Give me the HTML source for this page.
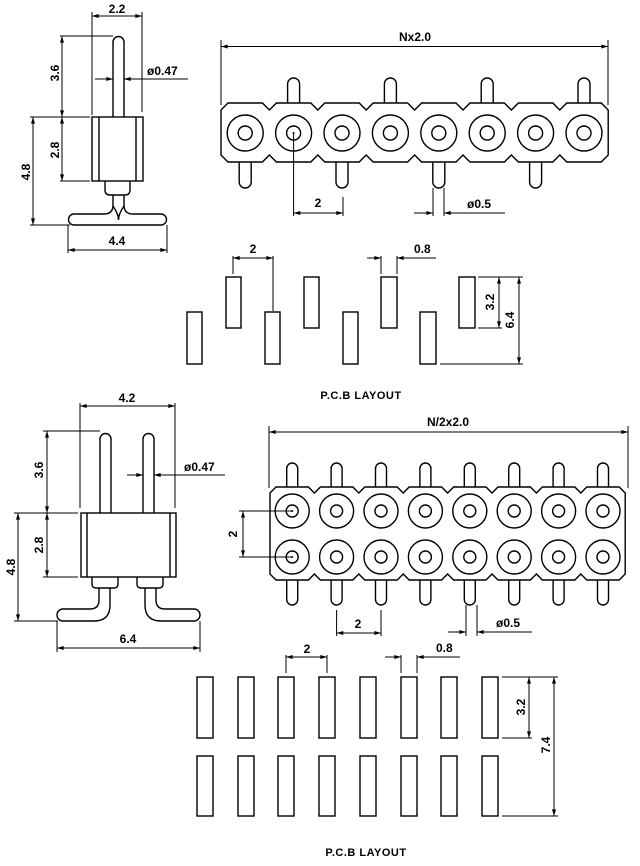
<!DOCTYPE html>
<html><head><meta charset="utf-8"><style>
html,body{margin:0;padding:0;background:#fff}
svg{display:block}
text{font-family:"Liberation Sans",sans-serif;font-size:12px;font-weight:bold;fill:#000}
.o{fill:none;stroke:#000;stroke-width:1.4}
.d{fill:none;stroke:#000;stroke-width:1}
</style></head><body>
<svg width="640" height="866" viewBox="0 0 640 866" xmlns="http://www.w3.org/2000/svg">
<defs>
<marker id="a" viewBox="0 0 10 6" refX="10" refY="3" markerWidth="8" markerHeight="4" orient="auto-start-reverse" markerUnits="userSpaceOnUse"><path d="M0,0 L10,3 L0,6 z" fill="#000"/></marker>
</defs>

<g>
<path class="d" d="M92,12 V115 M142,12 V112"/>
<path class="d" d="M92,16 H142" marker-start="url(#a)" marker-end="url(#a)"/>
<text x="117" y="13" text-anchor="middle">2.2</text>
<path class="o" d="M113,117 V42 A5.5,5.5 0 0 1 124,42 V117"/>
<path class="d" d="M60,36 H113"/>
<path class="d" d="M62,36 V117" marker-start="url(#a)" marker-end="url(#a)"/>
<text transform="translate(59,73) rotate(-90)" text-anchor="middle">3.6</text>
<path class="d" d="M95,79 H113" marker-end="url(#a)"/>
<path class="d" d="M188,79 H124" marker-end="url(#a)"/>
<text x="147" y="75">ø0.47</text>
<rect class="o" x="92" y="117" width="51" height="64"/>
<path class="o" d="M99,117 V181 M136,117 V181"/>
<path class="d" d="M62,117 V181" marker-start="url(#a)" marker-end="url(#a)"/>
<path class="d" d="M60,181 H90 M30,117 H90 M30,225 H70"/>
<text transform="translate(59,150) rotate(-90)" text-anchor="middle">2.8</text>
<path class="d" d="M33,117 V225" marker-start="url(#a)" marker-end="url(#a)"/>
<text transform="translate(30,172) rotate(-90)" text-anchor="middle">4.8</text>
<path class="o" d="M105,181 V190 Q105,195 110,195 H125 Q130,195 130,190 V181"/>
<path class="o" d="M113,195 V205 Q113,214 104,214 H74 A5.5,5.5 0 0 0 74,225 H161 A5.5,5.5 0 0 0 161,214 H133 Q124,214 124,205 V195"/>
<path class="o" d="M113,206 Q118.5,214 118.5,220 M124,206 Q118.5,214 118.5,220"/>
<path class="d" d="M68,225 V253 M167,225 V253"/>
<path class="d" d="M68,250 H167" marker-start="url(#a)" marker-end="url(#a)"/>
<text x="117" y="245" text-anchor="middle">4.4</text>
</g>

<g>
<path class="d" d="M221,40 V105 M608,40 V105"/>
<path class="d" d="M221,46.5 H608" marker-start="url(#a)" marker-end="url(#a)"/>
<text x="415" y="41" text-anchor="middle">Nx2.0</text>
<path class="o" d="M221,110 L228,103 L262.4,103 L269.4,110 L276.4,103 L310.8,103 L317.8,110 L324.8,103 L359.2,103 L366.2,110 L373.2,103 L407.6,103 L414.6,110 L421.6,103 L456,103 L463,110 L470,103 L504.4,103 L511.4,110 L518.4,103 L552.8,103 L559.8,110 L566.8,103 L601.2,103 L608.2,110 L608.2,155 L601.2,162 L566.8,162 L559.8,155 L552.8,162 L518.4,162 L511.4,155 L504.4,162 L470,162 L463,155 L456,162 L421.6,162 L414.6,155 L407.6,162 L373.2,162 L366.2,155 L359.2,162 L324.8,162 L317.8,155 L310.8,162 L276.4,162 L269.4,155 L262.4,162 L228,162 L221,155 Z"/>
<g class="o">
<circle cx="245.2" cy="133" r="18"/><circle cx="245.2" cy="133" r="7"/>
<circle cx="293.6" cy="133" r="18"/><circle cx="293.6" cy="133" r="7"/>
<circle cx="342" cy="133" r="18"/><circle cx="342" cy="133" r="7"/>
<circle cx="390.4" cy="133" r="18"/><circle cx="390.4" cy="133" r="7"/>
<circle cx="438.8" cy="133" r="18"/><circle cx="438.8" cy="133" r="7"/>
<circle cx="487.2" cy="133" r="18"/><circle cx="487.2" cy="133" r="7"/>
<circle cx="535.6" cy="133" r="18"/><circle cx="535.6" cy="133" r="7"/>
<circle cx="584" cy="133" r="18"/><circle cx="584" cy="133" r="7"/>
</g>
<circle cx="293.6" cy="133" r="1" fill="#000"/>
<path class="o" d="M287.6,103 V84 A6,6 0 0 1 299.6,84 V103 M384.4,103 V84 A6,6 0 0 1 396.4,84 V103 M481.2,103 V84 A6,6 0 0 1 493.2,84 V103 M578,103 V84 A6,6 0 0 1 590,84 V103"/>
<path class="o" d="M239.2,162 V182 A6,6 0 0 0 251.2,182 V162 M336,162 V182 A6,6 0 0 0 348,182 V162 M432.8,162 V182 A6,6 0 0 0 444.8,182 V162 M529.6,162 V182 A6,6 0 0 0 541.6,182 V162"/>
<path class="d" d="M293.6,133 V216 M343,197 V216"/>
<path class="d" d="M293.6,213 H343" marker-start="url(#a)" marker-end="url(#a)"/>
<text x="318" y="207" text-anchor="middle">2</text>
<path class="d" d="M433,188 V216 M444,188 V216"/>
<path class="d" d="M414,213 H433" marker-end="url(#a)"/>
<path class="d" d="M505,213 H444" marker-end="url(#a)"/>
<text x="467" y="208">ø0.5</text>
</g>

<g class="o">
<rect x="187" y="312" width="15" height="52"/>
<rect x="265" y="312" width="15" height="52"/>
<rect x="343" y="312" width="15" height="52"/>
<rect x="420" y="312" width="16" height="52"/>
<rect x="226" y="277" width="15" height="51"/>
<rect x="304" y="277" width="15" height="51"/>
<rect x="381" y="277" width="16" height="51"/>
<rect x="459" y="277" width="16" height="51"/>
</g>
<path class="d" d="M233,256 V274 M273,256 V311"/>
<path class="d" d="M233,258 H273" marker-start="url(#a)" marker-end="url(#a)"/>
<text x="253" y="253" text-anchor="middle">2</text>
<path class="d" d="M381,256 V274 M397,256 V274"/>
<path class="d" d="M367,258 H381" marker-end="url(#a)"/>
<path class="d" d="M436,258 H397" marker-end="url(#a)"/>
<text x="414" y="253">0.8</text>
<path class="d" d="M478,277 H523 M478,328 H502 M440,364 H523"/>
<path class="d" d="M499,277 V328" marker-start="url(#a)" marker-end="url(#a)"/>
<text transform="translate(494,302) rotate(-90)" text-anchor="middle">3.2</text>
<path class="d" d="M519,277 V364" marker-start="url(#a)" marker-end="url(#a)"/>
<text transform="translate(514,320) rotate(-90)" text-anchor="middle">6.4</text>
<text x="361" y="399" text-anchor="middle" style="font-size:11px;letter-spacing:0.5px">P.C.B LAYOUT</text>

<g>
<path class="d" d="M80,403 V508 M175,403 V508"/>
<path class="d" d="M80,406 H175" marker-start="url(#a)" marker-end="url(#a)"/>
<text x="127" y="402" text-anchor="middle">4.2</text>
<path class="o" d="M100,513 V439 A5.5,5.5 0 0 1 111,439 V513 M143,513 V439 A5.5,5.5 0 0 1 154,439 V513"/>
<path class="d" d="M43,431 H100"/>
<path class="d" d="M47,431 V513" marker-start="url(#a)" marker-end="url(#a)"/>
<text transform="translate(43,470) rotate(-90)" text-anchor="middle">3.6</text>
<path class="d" d="M127,475 H143" marker-end="url(#a)"/>
<path class="d" d="M225,475 H154" marker-end="url(#a)"/>
<text x="184" y="471">ø0.47</text>
<rect class="o" x="81" y="513" width="95" height="64"/>
<path class="o" d="M87,513 V577 M170,513 V577"/>
<path class="d" d="M47,513 V577" marker-start="url(#a)" marker-end="url(#a)"/>
<path class="d" d="M43,577 H78 M14,513 H78 M14,621 H58"/>
<text transform="translate(43,545) rotate(-90)" text-anchor="middle">2.8</text>
<path class="d" d="M18,513 V621" marker-start="url(#a)" marker-end="url(#a)"/>
<text transform="translate(15,567) rotate(-90)" text-anchor="middle">4.8</text>
<path class="o" d="M92,577 V584 Q92,588 96,588 H114 Q118,588 118,584 V577 M137,577 V584 Q137,588 141,588 H159 Q163,588 163,584 V577"/>
<path class="o" d="M110,588 V605 Q110,621 94,621 H63 A6,6 0 0 1 63,609 H90 Q99,609 99,600 V588"/>
<path class="o" d="M145,588 V605 Q145,621 161,621 H194 A6,6 0 0 0 194,609 H165 Q156,609 156,600 V588"/>
<path class="d" d="M57,621 V652 M200,621 V652"/>
<path class="d" d="M57,648 H200" marker-start="url(#a)" marker-end="url(#a)"/>
<text x="128" y="643" text-anchor="middle">6.4</text>
</g>

<g>
<path class="d" d="M269,426 V488 M628,426 V488"/>
<path class="d" d="M269,432 H628" marker-start="url(#a)" marker-end="url(#a)"/>
<text x="448" y="426" text-anchor="middle">N/2x2.0</text>
<path class="o" d="M270,493 L276,487 L308.4,487 L314.4,493 L320.4,487 L352.8,487 L358.8,493 L364.8,487 L397.2,487 L403.2,493 L409.2,487 L441.6,487 L447.6,493 L453.6,487 L486,487 L492,493 L498,487 L530.4,487 L536.4,493 L542.4,487 L574.8,487 L580.8,493 L586.8,487 L619.2,487 L625.2,493 L625.2,574 L619.2,580 L586.8,580 L580.8,574 L574.8,580 L542.4,580 L536.4,574 L530.4,580 L498,580 L492,574 L486,580 L453.6,580 L447.6,574 L441.6,580 L409.2,580 L403.2,574 L397.2,580 L364.8,580 L358.8,574 L352.8,580 L320.4,580 L314.4,574 L308.4,580 L276,580 L270,574 Z"/>
<g class="o">
<circle cx="292.2" cy="511" r="17"/><circle cx="292.2" cy="511" r="6"/><circle cx="292.2" cy="557" r="17"/><circle cx="292.2" cy="557" r="6"/>
<circle cx="336.6" cy="511" r="17"/><circle cx="336.6" cy="511" r="6"/><circle cx="336.6" cy="557" r="17"/><circle cx="336.6" cy="557" r="6"/>
<circle cx="381" cy="511" r="17"/><circle cx="381" cy="511" r="6"/><circle cx="381" cy="557" r="17"/><circle cx="381" cy="557" r="6"/>
<circle cx="425.4" cy="511" r="17"/><circle cx="425.4" cy="511" r="6"/><circle cx="425.4" cy="557" r="17"/><circle cx="425.4" cy="557" r="6"/>
<circle cx="469.8" cy="511" r="17"/><circle cx="469.8" cy="511" r="6"/><circle cx="469.8" cy="557" r="17"/><circle cx="469.8" cy="557" r="6"/>
<circle cx="514.2" cy="511" r="17"/><circle cx="514.2" cy="511" r="6"/><circle cx="514.2" cy="557" r="17"/><circle cx="514.2" cy="557" r="6"/>
<circle cx="558.6" cy="511" r="17"/><circle cx="558.6" cy="511" r="6"/><circle cx="558.6" cy="557" r="17"/><circle cx="558.6" cy="557" r="6"/>
<circle cx="603" cy="511" r="17"/><circle cx="603" cy="511" r="6"/><circle cx="603" cy="557" r="17"/><circle cx="603" cy="557" r="6"/>
</g>
<circle cx="292.2" cy="511" r="1" fill="#000"/><circle cx="292.2" cy="557" r="1" fill="#000"/>
<path class="o" d="M286.7,487 V468.5 A5.5,5.5 0 0 1 297.7,468.5 V487 M331.1,487 V468.5 A5.5,5.5 0 0 1 342.1,468.5 V487 M375.5,487 V468.5 A5.5,5.5 0 0 1 386.5,468.5 V487 M419.9,487 V468.5 A5.5,5.5 0 0 1 430.9,468.5 V487 M464.3,487 V468.5 A5.5,5.5 0 0 1 475.3,468.5 V487 M508.7,487 V468.5 A5.5,5.5 0 0 1 519.7,468.5 V487 M553.1,487 V468.5 A5.5,5.5 0 0 1 564.1,468.5 V487 M597.5,487 V468.5 A5.5,5.5 0 0 1 608.5,468.5 V487"/>
<path class="o" d="M286.7,580 V599.5 A5.5,5.5 0 0 0 297.7,599.5 V580 M331.1,580 V599.5 A5.5,5.5 0 0 0 342.1,599.5 V580 M375.5,580 V599.5 A5.5,5.5 0 0 0 386.5,599.5 V580 M419.9,580 V599.5 A5.5,5.5 0 0 0 430.9,599.5 V580 M464.3,580 V599.5 A5.5,5.5 0 0 0 475.3,599.5 V580 M508.7,580 V599.5 A5.5,5.5 0 0 0 519.7,599.5 V580 M553.1,580 V599.5 A5.5,5.5 0 0 0 564.1,599.5 V580 M597.5,580 V599.5 A5.5,5.5 0 0 0 608.5,599.5 V580"/>
<path class="d" d="M239,511 H292.2 M239,557 H292.2"/>
<path class="d" d="M243,511 V557" marker-start="url(#a)" marker-end="url(#a)"/>
<text transform="translate(237,534) rotate(-90)" text-anchor="middle">2</text>
<path class="d" d="M336.6,610 V636 M381,610 V636"/>
<path class="d" d="M336.6,633 H381" marker-start="url(#a)" marker-end="url(#a)"/>
<text x="358" y="628" text-anchor="middle">2</text>
<path class="d" d="M466,605 V636 M477,605 V636"/>
<path class="d" d="M448,632 H466" marker-end="url(#a)"/>
<path class="d" d="M532,632 H477" marker-end="url(#a)"/>
<text x="496" y="627">ø0.5</text>
</g>

<g class="o">
<rect x="197" y="677" width="16" height="61"/><rect x="238" y="677" width="16" height="61"/><rect x="278" y="677" width="16" height="61"/><rect x="319" y="677" width="16" height="61"/><rect x="360" y="677" width="16" height="61"/><rect x="401" y="677" width="16" height="61"/><rect x="441" y="677" width="16" height="61"/><rect x="482" y="677" width="16" height="61"/>
<rect x="197" y="756" width="16" height="60"/><rect x="238" y="756" width="16" height="60"/><rect x="278" y="756" width="16" height="60"/><rect x="319" y="756" width="16" height="60"/><rect x="360" y="756" width="16" height="60"/><rect x="401" y="756" width="16" height="60"/><rect x="441" y="756" width="16" height="60"/><rect x="482" y="756" width="16" height="60"/>
</g>
<path class="d" d="M286,655 V673 M327,655 V673"/>
<path class="d" d="M286,657 H327" marker-start="url(#a)" marker-end="url(#a)"/>
<text x="307" y="653" text-anchor="middle">2</text>
<path class="d" d="M401,655 V673 M417,655 V673"/>
<path class="d" d="M385,657 H401" marker-end="url(#a)"/>
<path class="d" d="M460,657 H417" marker-end="url(#a)"/>
<text x="436" y="652">0.8</text>
<path class="d" d="M502,677 H558 M502,738 H532 M502,816 H558"/>
<path class="d" d="M529,677 V738" marker-start="url(#a)" marker-end="url(#a)"/>
<text transform="translate(525,707) rotate(-90)" text-anchor="middle">3.2</text>
<path class="d" d="M554,677 V816" marker-start="url(#a)" marker-end="url(#a)"/>
<text transform="translate(550,745) rotate(-90)" text-anchor="middle">7.4</text>
<text x="366" y="856" text-anchor="middle" style="font-size:11px;letter-spacing:0.5px">P.C.B LAYOUT</text>
</svg>
</body></html>
